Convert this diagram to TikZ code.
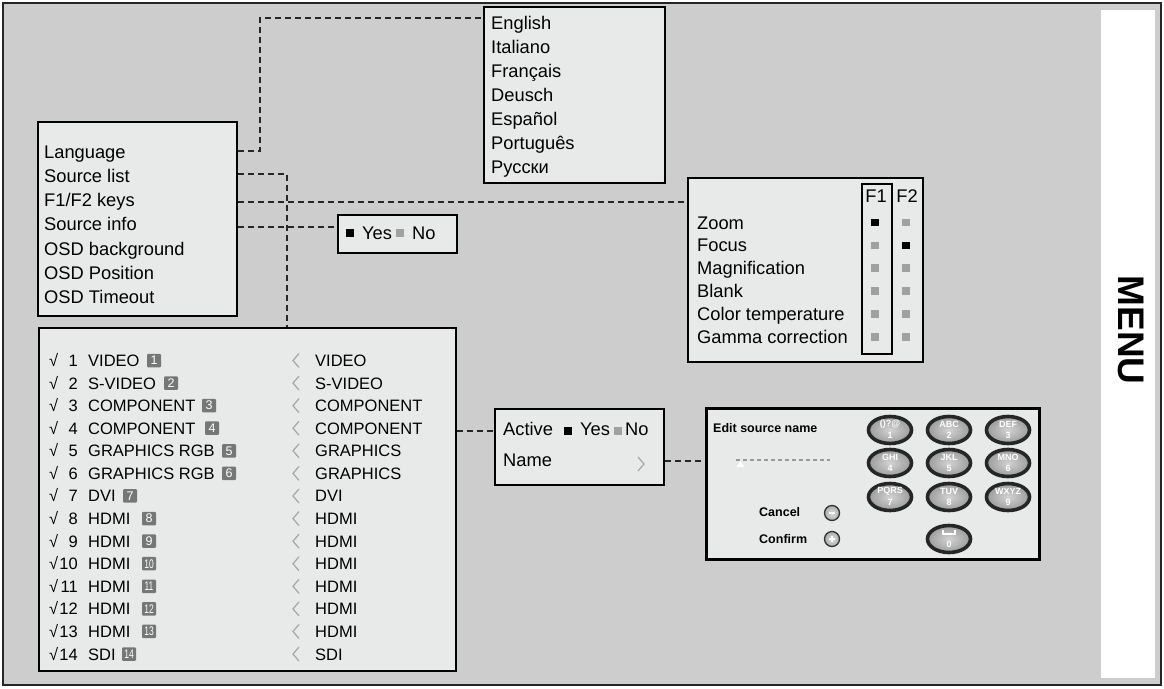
\documentclass[tikz,border=0pt]{standalone}
\usepackage{fontspec}
\setmainfont{Liberation Sans}
\usepackage{graphicx}
\usetikzlibrary{shapes.geometric}
\definecolor{bgc}{RGB}{205,205,205}
\definecolor{boxc}{RGB}{232,233,233}
\definecolor{sqg}{RGB}{160,160,160}
\definecolor{icong}{RGB}{118,118,118}
\definecolor{chev}{RGB}{165,165,165}
\begin{document}
\begin{tikzpicture}[x=1pt,y=-1pt,
  box/.style={draw=black, line width=2pt, fill=boxc, rectangle, inner sep=0, anchor=north west},
  txt/.style={anchor=base west, inner sep=0, font=\fontsize{18.3}{22}\selectfont},
  stxt/.style={anchor=base west, inner sep=0, font=\fontsize{16.5}{20}\selectfont},
  btxt/.style={anchor=base west, inner sep=0, font=\bfseries\fontsize{12.5}{15}\selectfont},
  conn/.style={draw=black!85, line width=1.1pt, dash pattern=on 6pt off 4pt},
  blk/.style={fill=black, minimum size=7.5pt, inner sep=0, rectangle},
  gry/.style={fill=sqg, minimum size=7.5pt, inner sep=0, rectangle},
  icon/.style={fill=icong, rounded corners=1pt, minimum width=14pt, minimum height=13.5pt, inner sep=0, text=white, font=\fontsize{12.5}{13}\selectfont},
  keybtn/.style={ellipse, draw=black!85, line width=3.6pt, minimum width=43pt, minimum height=27pt, inner color=gray!35, outer color=gray!78},
  keylab/.style={inner sep=0, text=white, font=\bfseries\fontsize{9}{10}\selectfont},
  rbtn/.style={circle, draw=black!80, line width=1.3pt, minimum size=15pt, inner sep=0, inner color=gray!25, outer color=gray!65}
]
\useasboundingbox (0,0) rectangle (1164,688);
% frame
\draw[fill=bgc, line width=1.2pt, draw=black!85] (3,3) rectangle (1161,685);
\fill[white] (1101,10) rectangle (1155,678);
\node[rotate=-90, inner sep=0, font=\bfseries\fontsize{37}{40}\selectfont] (title) at (1131,330) {MENU};

% boxes
\node[box, minimum width=181pt, minimum height=176pt] (langbox) at (483,6) {};
\node[box, minimum width=199pt, minimum height=194pt] (menu) at (37,121) {};
\node[box, minimum width=119pt, minimum height=38pt] (yesno) at (337,214) {};
\node[box, minimum width=235pt, minimum height=184pt] (f12) at (687,177) {};
\node[box, fill=none, minimum width=30pt, minimum height=170pt] (f1col) at (861,183) {};
\node[box, minimum width=417pt, minimum height=343pt] (src) at (38,327) {};
\node[box, minimum width=169pt, minimum height=76pt] (active) at (494,408) {};
\node[box, line width=2.5pt, minimum width=333pt, minimum height=151pt] (keypad) at (705,407) {};

% connectors
\draw[conn] (menu.east |- 0,151) -| (260,18) -- (langbox.west |- 0,18);
\draw[conn] (menu.east |- 0,174) -| (src.north -| 287,0);
\draw[conn] (menu.east |- 0,202) -- (f12.west |- 0,202);
\draw[conn] (menu.east |- 0,227) -- (yesno.west |- 0,227);
\draw[conn] (src.east |- 0,431) -- (active.west |- 0,431);
\draw[conn] (active.east |- 0,461) -- (keypad.west |- 0,461);

% language list
\foreach \t [count=\i from 0] in {English, Italiano, Français, Deusch, Español, Português, Русски}
  \node[txt] (l\i) at (491,{29+24*\i}) {\t};

% main menu
\foreach \t [count=\i from 0] in {Language, Source list, F1/F2 keys, Source info, OSD background, OSD Position, OSD Timeout}
  \node[txt] (m\i) at (44,{158+24.3*\i}) {\t};

% yes/no
\node[blk] (yn1) at (350,233) {};
\node[txt] (yn2) at (362,239) {Yes};
\node[gry] (yn3) at (400,233) {};
\node[txt] (yn4) at (412,239) {No};

% F1/F2
\node[txt, anchor=base] (hf1) at (876,202) {F1};
\node[txt, anchor=base] (hf2) at (907,202) {F2};
\foreach \t [count=\i from 0] in {Zoom, Focus, Magnification, Blank, Color temperature, Gamma correction}
  \node[txt] (f\i) at (697,{229+22.85*\i}) {\t};
\node[blk] (q10) at (875,222.5) {};
\node[gry] (q20) at (906,222.5) {};
\node[gry] (q11) at (875,245.5) {};
\node[blk] (q21) at (906,245.5) {};
\foreach \i in {2,...,5}{
  \node[gry] (q1\i) at (875,{222.5+22.85*\i}) {};
  \node[gry] (q2\i) at (906,{222.5+22.85*\i}) {};
}

% source list
\foreach \n/\nm/\ix in {1/VIDEO/147, 2/S-VIDEO/164, 3/COMPONENT/202, 4/COMPONENT/205, 5/GRAPHICS RGB/222, 6/GRAPHICS RGB/222, 7/DVI/123, 8/HDMI/142, 9/HDMI/142, 10/HDMI/142, 11/HDMI/142, 12/HDMI/142, 13/HDMI/142, 14/SDI/122}{
  \pgfmathsetmacro{\b}{366.5+22.58*(\n-1)}
  \node[stxt] (sv\n) at (49,\b) {√};
  \node[stxt, anchor=base east] (sn\n) at (78,\b) {\n};
  \node[stxt] (sm\n) at (88,\b) {\nm};
  \node[icon] (si\n) at ({\ix+7},{\b-6}) {\ifnum\n>9 \scalebox{0.68}[1]{\n}\else\n\fi};
}
\foreach \n/\nm in {1/VIDEO, 2/S-VIDEO, 3/COMPONENT, 4/COMPONENT, 5/GRAPHICS, 6/GRAPHICS, 7/DVI, 8/HDMI, 9/HDMI, 10/HDMI, 11/HDMI, 12/HDMI, 13/HDMI, 14/SDI}{
  \pgfmathsetmacro{\b}{366.5+22.58*(\n-1)}
  \draw[chev, line width=1.2pt] (299,{\b-13}) -- (293,{\b-6}) -- (299,{\b+1});
  \node[stxt] (sr\n) at (315,\b) {\nm};
}

% active / name
\node[txt] (a1) at (503,435) {Active};
\node[blk] (a2) at (568,431) {};
\node[txt] (a3) at (580,435) {Yes};
\node[gry] (a4) at (618,431) {};
\node[txt] (a5) at (625,435) {No};
\node[txt] (a6) at (503,466) {Name};
\draw[chev, line width=1.2pt] (638,457) -- (644,464) -- (638,471);

% keypad
\node[btxt] (k1) at (713,432) {Edit source name};
\draw[gray!80, line width=1.2pt, dash pattern=on 4pt off 3pt] (736,460) -- (830,460);
\fill[white] (736.5,467) -- (744.5,467) -- (740.5,461) -- cycle;
\node[btxt] (k2) at (759,516) {Cancel};
\node[btxt] (k3) at (759,543) {Confirm};
\node[rbtn] (c1) at (832,513) {};
\draw[white, line width=1.3pt] (829,513) -- (835,513);
\node[rbtn] (c2) at (832,539) {};
\draw[white, line width=1.3pt] (829,539) -- (835,539) (832,536) -- (832,542);
\foreach \lab/\num/\x/\y in {()?@/1/890/430, ABC/2/949/430, DEF/3/1008/430, GHI/4/890/463, JKL/5/949/463, MNO/6/1008/463, PQRS/7/890/497, TUV/8/949/497, WXYZ/9/1008/497}{
  \node[keybtn] (b\num) at (\x,\y) {};
  \node[keylab] (bl\num) at (\x,{\y-5.5}) {\lab};
  \node[keylab] (bn\num) at (\x,{\y+5}) {\num};
}
\node[keybtn] (b0) at (949,539) {};
\draw[white, line width=1.4pt] (943,530) -- (943,534) -- (955,534) -- (955,530);
\node[keylab] (bn0) at (949,544) {0};
\end{tikzpicture}
\end{document}
